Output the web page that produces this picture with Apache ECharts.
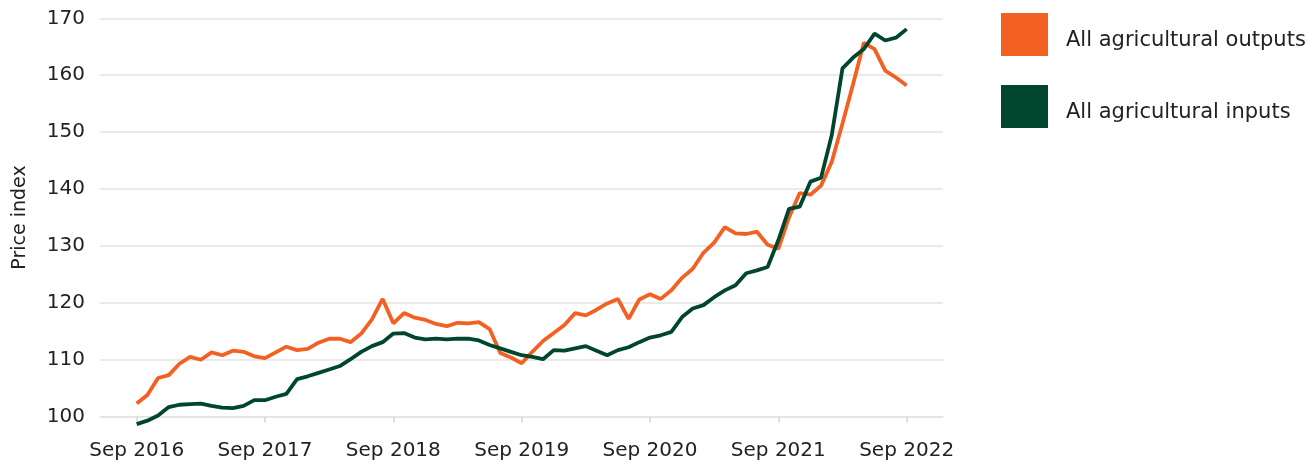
<!DOCTYPE html>
<html>
<head>
<meta charset="utf-8">
<script src="https://cdn.jsdelivr.net/npm/echarts@6/dist/echarts.min.js"></script>
<style>
  html, body { margin: 0; padding: 0; background: #fff; }
  #chart { width: 1307px; height: 465px; }
</style>
</head>
<body>
<div id="chart"></div>
<script>
// monthly index, Sep 2016 .. Sep 2022 (73 months)
var outputs = [
    102.3, 103.8, 106.8, 107.3, 109.3, 110.5, 110.0, 111.3, 110.8, 111.6, 111.4, 110.6,
    110.3, 111.3, 112.3, 111.7, 111.9, 113.0, 113.7, 113.7, 113.1, 114.6, 117.1, 120.7,
    116.4, 118.2, 117.4, 117.0, 116.3, 115.9, 116.5, 116.4, 116.6, 115.4, 111.2, 110.4,
    109.4, 111.4, 113.3, 114.7, 116.1, 118.2, 117.8, 118.8, 119.9, 120.7, 117.2, 120.6,
    121.5, 120.7, 122.2, 124.4, 126.0, 128.8, 130.6, 133.3, 132.2, 132.1, 132.5, 130.2,
    129.5, 135.0, 139.3, 139.0, 140.6, 144.8, 151.5, 158.5, 165.7, 164.6, 160.8, 159.6,
    158.2
];
var inputs = [
    98.7, 99.3, 100.2, 101.7, 102.1, 102.2, 102.3, 101.9, 101.6, 101.5, 101.9, 102.9,
    102.9, 103.5, 104.0, 106.6, 107.1, 107.7, 108.3, 108.9, 110.1, 111.4, 112.4, 113.1,
    114.6, 114.7, 113.9, 113.6, 113.7, 113.6, 113.7, 113.7, 113.4, 112.6, 112.0, 111.4,
    110.8, 110.5, 110.1, 111.7, 111.6, 112.0, 112.4, 111.6, 110.8, 111.7, 112.2, 113.1,
    113.9, 114.3, 114.9, 117.5, 119.0, 119.6, 121.0, 122.2, 123.1, 125.2, 125.7, 126.3,
    131.0, 136.5, 136.9, 141.3, 142.0, 149.5, 161.2, 163.1, 164.6, 167.3, 166.1, 166.6,
    168.1
];
var tickMonths = [0, 12, 24, 36, 48, 60, 72];
var tickLabels = ['Sep 2016', 'Sep 2017', 'Sep 2018', 'Sep 2019', 'Sep 2020', 'Sep 2021', 'Sep 2022'];

var font = 'DejaVu Sans';

function pairs(arr) {
    return arr.map(function (v, i) { return [i, v]; });
}

var chart = echarts.init(document.getElementById('chart'));

var option = {
    animation: false,
    textStyle: { fontFamily: font },
    grid: { left: 100, right: 364, top: 18.3, bottom: 48.3 },
    legend: {
        orient: 'vertical',
        left: 1001,
        top: 13,
        padding: 0,
        itemWidth: 47,
        itemHeight: 43,
        itemGap: 29,
        formatter: function (name) { return '{s|}{t|' + name + '}'; },
        textStyle: {
            rich: {
                s: { width: 13, fontSize: 21 },
                t: { fontFamily: font, fontSize: 21, color: '#222', padding: [12, 0, 0, 0] }
            }
        },
        data: [
            { name: 'All agricultural outputs', icon: 'rect' },
            { name: 'All agricultural inputs', icon: 'rect' }
        ]
    },
    xAxis: {
        type: 'value',
        min: -3.43,
        max: 75.4,
        axisLine: { show: true, lineStyle: { color: '#e3e3e3', width: 1.5 } },
        axisTick: {
            show: true,
            customValues: tickMonths,
            length: 6,
            lineStyle: { color: '#d6d6d6', width: 1.5 }
        },
        axisLabel: {
            customValues: tickMonths,
            margin: 24,
            fontSize: 20,
            fontFamily: font,
            color: '#222',
            formatter: function (v) { return tickLabels[tickMonths.indexOf(v)]; }
        },
        splitLine: { show: false }
    },
    yAxis: {
        type: 'value',
        min: 100,
        max: 170,
        interval: 10,
        name: 'Price index',
        nameLocation: 'middle',
        nameGap: 70,
        nameTextStyle: { fontFamily: font, fontSize: 19, color: '#222' },
        axisLine: { show: false },
        axisTick: { show: false },
        axisLabel: { margin: 15, fontSize: 20, fontFamily: font, color: '#222' },
        splitLine: { lineStyle: { color: '#e3e3e3', width: 1.5 } }
    },
    series: [
        {
            name: 'All agricultural outputs',
            type: 'line',
            data: pairs(outputs),
            showSymbol: false,
            clip: false,
            color: '#f26122',
            lineStyle: { color: '#f26122', width: 3.8 }
        },
        {
            name: 'All agricultural inputs',
            type: 'line',
            data: pairs(inputs),
            showSymbol: false,
            clip: false,
            color: '#00462f',
            lineStyle: { color: '#00462f', width: 3.8 }
        }
    ]
};

chart.setOption(option);
</script>
</body>
</html>
